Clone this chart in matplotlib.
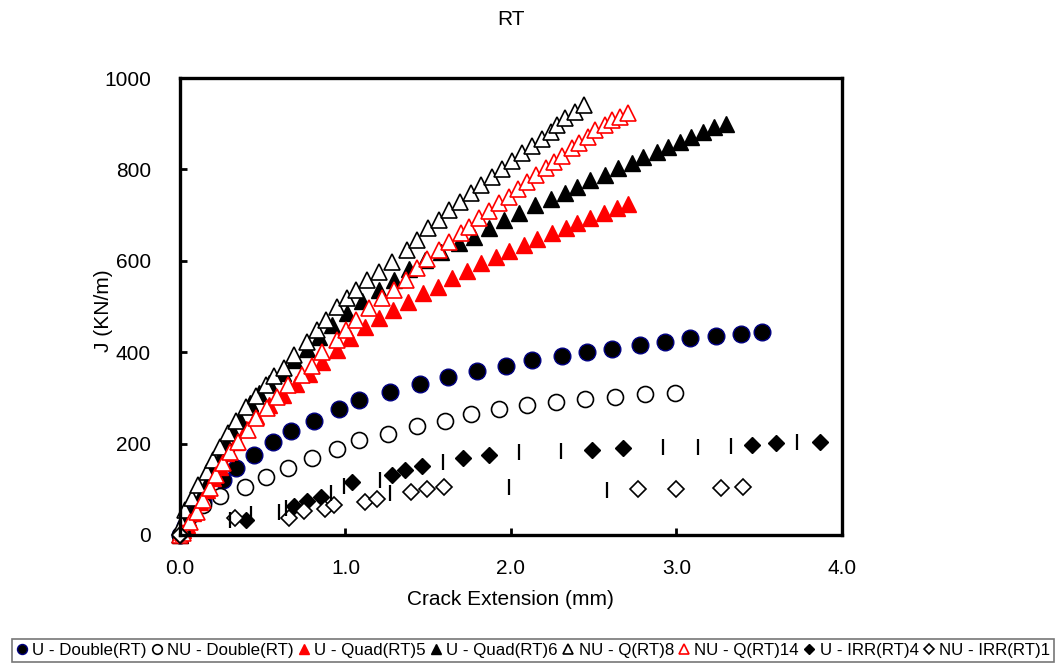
import matplotlib
matplotlib.use("Agg")
import matplotlib.pyplot as plt
from matplotlib.ticker import FormatStrFormatter

plt.rcParams['font.family'] = ['Liberation Sans', 'DejaVu Sans']

# Данные: прирост трещины (мм) и J (кН/м)
u_double_x = [0, 0.03, 0.07, 0.14, 0.26, 0.34, 0.45, 0.56, 0.67, 0.81, 0.96, 1.08, 1.27, 1.45,
              1.62, 1.795, 1.97, 2.13, 2.31, 2.46, 2.61, 2.78, 2.93, 3.08, 3.24, 3.39, 3.52]
u_double_y = [0, 20, 45, 72, 120, 147, 175, 203, 228, 250, 276, 295, 313, 330,
              345, 358, 370, 382, 392, 400, 408, 415, 423, 430, 435, 440, 445]

nu_double_x = [0, 0.04, 0.14, 0.24, 0.39, 0.52, 0.65, 0.80, 0.95, 1.08, 1.26, 1.43, 1.6, 1.76,
               1.93, 2.1, 2.27, 2.45, 2.63, 2.81, 2.99]
nu_double_y = [0, 30, 66, 85, 105, 127, 147, 168, 188, 208, 222, 238, 250, 264,
               275, 285, 292, 298, 302, 308, 311]

u_quad5_x = [0, 0.02, 0.04, 0.08, 0.12, 0.16, 0.20, 0.24, 0.28, 0.34, 0.40, 0.46, 0.54, 0.62,
             0.70, 0.78, 0.86, 0.95, 1.03, 1.12, 1.20, 1.29, 1.38, 1.47, 1.56, 1.645, 1.735,
             1.82, 1.91, 1.99, 2.08, 2.16, 2.25, 2.33, 2.40, 2.48, 2.56, 2.64, 2.71]
u_quad5_y = [0, 10, 22, 48, 72, 98, 125, 149, 179, 203, 232, 260, 285, 307,
             330, 352, 379, 405, 432, 455, 475, 492, 510, 530, 543, 562, 578,
             595, 608, 621, 635, 648, 661, 672, 683, 694, 705, 716, 725]

u_quad6_x = [0, 0.02, 0.05, 0.08, 0.12, 0.16, 0.20, 0.24, 0.28, 0.32, 0.36, 0.42, 0.48, 0.54,
             0.62, 0.69, 0.765, 0.84, 0.92, 1.01, 1.10, 1.20, 1.295, 1.385, 1.48, 1.58,
             1.687, 1.777, 1.867, 1.958, 2.048, 2.145, 2.24, 2.325, 2.40, 2.48, 2.566,
             2.645, 2.73, 2.80, 2.88, 2.95, 3.02, 3.09, 3.16, 3.23, 3.30]
u_quad6_y = [0, 18, 38, 55, 83, 114, 142, 171, 201, 225, 252, 289, 311, 333,
             354, 384, 406, 433, 460, 486, 512, 536, 558, 582, 602, 619,
             639, 652, 672, 689, 705, 722, 735, 748, 761, 777, 788,
             803, 814, 827, 838, 849, 860, 871, 882, 893, 900]

nu_q8_x = [0, 0.01, 0.03, 0.07, 0.11, 0.16, 0.20, 0.24, 0.29, 0.34, 0.40, 0.46, 0.52, 0.57,
           0.63, 0.69, 0.765, 0.825, 0.885, 0.95, 1.01, 1.066, 1.13, 1.20, 1.28, 1.37, 1.43,
           1.50, 1.566, 1.627, 1.69, 1.76, 1.82, 1.885, 1.946, 2.006, 2.066, 2.13, 2.187,
           2.24, 2.277, 2.325, 2.39, 2.44]
nu_q8_y = [0, 25, 55, 81, 109, 138, 164, 193, 223, 250, 280, 305, 328, 348,
           365, 394, 422, 449, 470, 499, 519, 536, 558, 575, 597, 624, 645,
           672, 690, 711, 729, 748, 766, 783, 801, 818, 836, 851, 867,
           882, 897, 912, 926, 941]

nu_q14_x = [0, 0.02, 0.06, 0.10, 0.14, 0.18, 0.22, 0.26, 0.30, 0.35, 0.41, 0.46, 0.524, 0.585,
            0.65, 0.735, 0.80, 0.86, 0.946, 1.006, 1.066, 1.145, 1.22, 1.295, 1.367, 1.43,
            1.49, 1.566, 1.627, 1.70, 1.747, 1.807, 1.867, 1.928, 1.988, 2.04, 2.096, 2.15,
            2.21, 2.26, 2.307, 2.367, 2.41, 2.464, 2.51, 2.566, 2.61, 2.66, 2.71]
nu_q14_y = [0, 4, 28, 50, 77, 103, 131, 158, 182, 203, 230, 255, 278, 302,
            328, 350, 370, 400, 427, 449, 470, 497, 519, 536, 558, 584,
            604, 624, 641, 661, 674, 694, 709, 726, 740, 757, 772, 788,
            803, 816, 829, 847, 858, 871, 886, 897, 908, 915, 923]

u_irr4_x = [0, 0.40, 0.69, 0.77, 0.855, 1.04, 1.28, 1.36, 1.46, 1.71, 1.87, 2.49, 2.68, 3.46, 3.60, 3.87]
u_irr4_y = [0, 33, 64, 74, 83, 115, 132, 142, 150, 169, 175, 187, 190, 197, 201, 203]

nu_irr1_x = [0, 0.33, 0.66, 0.75, 0.875, 0.93, 1.12, 1.19, 1.395, 1.49, 1.595, 2.77, 3.0, 3.27, 3.40]
nu_irr1_y = [0, 38, 38, 52, 56, 65, 73, 79, 93, 100, 106, 101, 101, 103, 105]

# вертикальные штрихи без подписи в легенде
bars_x = [0.30, 0.43, 0.60, 0.64, 0.915, 0.99, 1.21, 1.27, 1.59, 1.99, 2.05, 2.30, 2.58, 2.92, 3.13, 3.33, 3.73]
bars_y = [33, 45, 50, 58, 92, 108, 120, 92, 160, 105, 182, 183, 98, 193, 193, 195, 203]

fig = plt.figure(figsize=(10.64, 6.65), dpi=100)
ax = fig.add_axes([0.1692, 0.1955, 0.622, 0.6872])

ax.plot(u_double_x, u_double_y, 'o', ms=12, mfc='black', mec='#000080', mew=1.0,
        ls='none', clip_on=False, label='U - Double(RT)')
ax.plot(nu_double_x, nu_double_y, 'o', ms=11.5, mfc='white', mec='black', mew=1.2,
        ls='none', clip_on=False, label='NU - Double(RT)')
ax.plot(u_quad5_x, u_quad5_y, '^', ms=11, mfc='#FF0000', mec='#FF0000', mew=1.0,
        ls='none', clip_on=False, label='U - Quad(RT)5')
ax.plot(u_quad6_x, u_quad6_y, '^', ms=11, mfc='black', mec='black', mew=1.0,
        ls='none', clip_on=False, label='U - Quad(RT)6')
ax.plot(nu_q8_x, nu_q8_y, '^', ms=11, mfc='white', mec='black', mew=1.2,
        ls='none', clip_on=False, label='NU - Q(RT)8')
ax.plot(nu_q14_x, nu_q14_y, '^', ms=11, mfc='white', mec='#FF0000', mew=1.2,
        ls='none', clip_on=False, label='NU - Q(RT)14')
ax.plot(u_irr4_x, u_irr4_y, 'D', ms=8.5, mfc='black', mec='black', mew=1.0,
        ls='none', clip_on=False, label='U - IRR(RT)4')
ax.plot(nu_irr1_x, nu_irr1_y, 'D', ms=8.5, mfc='white', mec='black', mew=1.2,
        ls='none', clip_on=False, label='NU - IRR(RT)1')
ax.plot(bars_x, bars_y, '|', ms=11, mec='black', mew=1.6, ls='none', label='_nolegend_')

ax.set_xlim(0, 4.0)
ax.set_ylim(0, 1000)
ax.set_xticks([0, 1, 2, 3, 4])
ax.set_yticks(range(0, 1001, 200))
ax.xaxis.set_major_formatter(FormatStrFormatter('%.1f'))

for sp in ax.spines.values():
    sp.set_linewidth(2.4)
ax.tick_params(direction='in', length=5, width=2, labelsize=15)
ax.tick_params(axis='x', pad=17)
ax.tick_params(axis='y', pad=21)

ax.set_xlabel('Crack Extension (mm)', fontsize=15, labelpad=9)
ax.set_ylabel('J (KN/m)', fontsize=15)
ax.yaxis.set_label_coords(-0.101, 0.49)
fig.text(0.48, 0.97, 'RT', ha='center', va='center', fontsize=15)

leg = fig.legend(loc='lower left', bbox_to_anchor=(0.011, 0.004, 0.98, 0.04), mode='expand',
                 ncol=8, fontsize=12.2, frameon=True, fancybox=False, markerscale=0.6,
                 handlelength=0.7, handletextpad=0.25, columnspacing=0.5, borderpad=0.25,
                 borderaxespad=0)
leg.get_frame().set_edgecolor('#555555')
leg.get_frame().set_linewidth(1.2)

plt.savefig('out.png', dpi=100)
